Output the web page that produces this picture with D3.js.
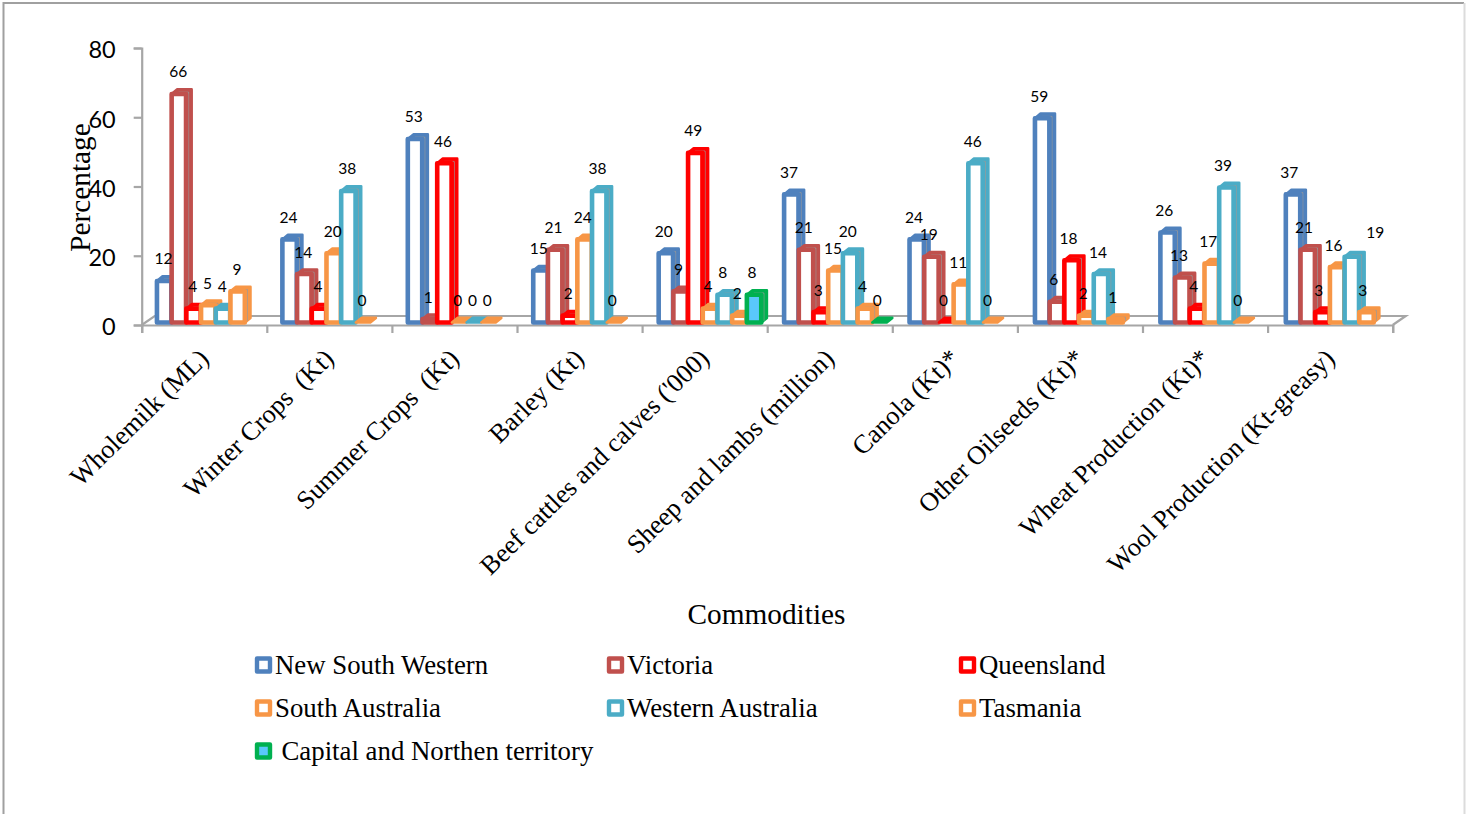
<!DOCTYPE html>
<html>
<head>
<meta charset="utf-8">
<script src="https://cdnjs.cloudflare.com/ajax/libs/d3/7.8.5/d3.min.js"></script>
<style>
  html, body { margin: 0; padding: 0; background: #fff; }
  svg { display: block; }
  .serif { font-family: "Liberation Serif", "Times New Roman", serif; fill: #000; }
  .sans { font-family: Lato, "Open Sans", sans-serif; fill: #000; }
</style>
</head>
<body>
<svg id="chart" width="1473" height="814"></svg>
<script>
// Share of national output by state, per commodity
const categories = ["Wholemilk (ML)", "Winter Crops  (Kt)", "Summer Crops  (Kt)", "Barley (Kt)",
  "Beef cattles and calves ('000)", "Sheep and lambs (million)", "Canola (Kt)*",
  "Other Oilseeds (Kt)*", "Wheat Production (Kt)*", "Wool Production (Kt-greasy)"];

const newSouthWestern = [12, 24, 53, 15, 20, 37, 24, 59, 26, 37];
const victoria        = [66, 14, 1, 21, 9, 21, 19, 6, 13, 21];
const queensland      = [4, 4, 46, 2, 49, 3, 0, 18, 4, 3];
const southAustralia  = [5, 20, 0, 24, 4, 15, 11, 2, 17, 16];
const westernAustralia = [4, 38, 0, 38, 8, 20, 46, 14, 39, 19];
const tasmania        = [9, 0, 0, 0, 2, 4, 0, 1, 0, 3];
const capitalNorthern = [null, null, null, null, 8, 0, null, null, null, null];

const yTicks = [0, 20, 40, 60, 80];

const series = [
  { name: "New South Western", values: newSouthWestern, color: "#4f81bd", fill: "#fff" },
  { name: "Victoria", values: victoria, color: "#c0504d", fill: "#fff" },
  { name: "Queensland", values: queensland, color: "#ff0000", fill: "#fff" },
  { name: "South Australia", values: southAustralia, color: "#f79646", fill: "#fff" },
  { name: "Western Australia", values: westernAustralia, color: "#4bacc6", fill: "#fff" },
  { name: "Tasmania", values: tasmania, color: "#f79646", fill: "#fff" },
  { name: "Capital and Northen territory", values: capitalNorthern, color: "#00b050", fill: "#5ac8fa" }
];

const svg = d3.select("#chart");
const axisGrey = "#a6a6a6";

// Page frame
svg.append("path")
  .attr("d", "M3.5,814V3H1464")
  .attr("fill", "none").attr("stroke", "#a0a0a0").attr("stroke-width", 2);
svg.append("path")
  .attr("d", "M1464.5,3V814")
  .attr("fill", "none").attr("stroke", "#dcdcdc").attr("stroke-width", 2);

// Scales
const plotLeft = 141.7, plotRight = 1392.7, y0 = 325, y80 = 48;
const y = d3.scaleLinear().domain([0, 80]).range([y0, y80]);
const x = d3.scaleBand().domain(categories).range([plotLeft, plotRight]);
// Perspective spreads the bars slightly wider than the floor ticks
const xBars = x.copy().range([plotLeft, plotRight + 3.3]);
const slot = d3.scaleBand().domain(d3.range(series.length)).range([13, 13 + 14.7 * series.length]);
const boundaries = d3.scaleLinear().domain([0, categories.length]).range([plotLeft, plotRight]);

// Floor of the 3-D box
const floorDepthX = 13, floorDepthY = 9;
svg.append("path")
  .attr("d", `M${plotLeft},${y0}L${plotLeft + floorDepthX},${y0 - floorDepthY}H${plotRight + floorDepthX}L${plotRight},${y0}`)
  .attr("fill", "none").attr("stroke", axisGrey).attr("stroke-width", 2.2);

// Value axis
const yAxis = svg.append("g")
  .attr("transform", `translate(${plotLeft},0)`)
  .call(d3.axisLeft(y).tickValues(yTicks).tickSize(8).tickPadding(18));
yAxis.selectAll("path, line").attr("stroke", axisGrey).attr("stroke-width", 2.2);
yAxis.selectAll("text").attr("class", "sans").style("font-size", "23.5px").attr("dy", "0.42em");

// Category axis: ticks sit on the band boundaries
const xTickAxis = svg.append("g")
  .attr("transform", `translate(0,${y0})`)
  .call(d3.axisBottom(boundaries).tickValues(d3.range(categories.length + 1)).tickSize(8).tickFormat(""));
xTickAxis.selectAll("path, line").attr("stroke", axisGrey).attr("stroke-width", 2.2);

const xLabels = svg.append("g")
  .attr("transform", `translate(0,${y0})`)
  .call(d3.axisBottom(x).tickSize(0).tickFormat(d => d));
xLabels.select("path").remove();
xLabels.selectAll("text")
  .attr("class", "serif")
  .style("font-size", "26.3px")
  .style("white-space", "pre")
  .attr("text-anchor", "end")
  .attr("x", 0).attr("y", 0).attr("dy", 0)
  .attr("transform", "translate(6,35) rotate(-44.5)");

// Bars: each one is a front face with a side and top panel behind it
const barW = 14.4, depthX = 5.6, depthY = 4.6, barOffset = 2.5, baseY = y0 - barOffset;
const marks = svg.append("g");
const labels = [];

// The Western Australia label on wool stands clear of its neighbours
const labelShift = (seriesIndex, catIndex) =>
  seriesIndex === 4 && catIndex === 9 ? { dx: 27, dy: -2 } : { dx: 0, dy: 0 };

categories.forEach((cat, c) => {
  series.forEach((s, i) => {
    const v = s.values[c];
    if (v === null) return;
    const left = xBars(cat) + slot(i) + 2.25;
    const right = left + barW;
    const top = y(v) - barOffset;
    const g = marks.append("g");
    g.append("path")
      .attr("d", `M${left},${top}L${left + depthX},${top - depthY}H${right + depthX}V${baseY - depthY}L${right},${baseY}Z`)
      .attr("fill", s.color).attr("stroke", s.color).attr("stroke-width", 2.6).attr("stroke-linejoin", "round");
    if (v > 0) {
      g.append("path")
        .attr("d", `M${left + 7},${top - 1.8}H${right + 2.6}V${baseY - 1.5}`)
        .attr("fill", "none").attr("stroke", "#9a9a9a").attr("stroke-width", 1).attr("opacity", 0.85);
    }
    g.append("rect")
      .attr("x", left).attr("y", top)
      .attr("width", barW).attr("height", baseY - top)
      .attr("fill", s.fill).attr("stroke", s.color).attr("stroke-width", 4.6).attr("stroke-linejoin", "round");
    const shift = labelShift(i, c);
    labels.push({ x: x(cat) + slot(i) + 2.25 + barW / 2 - 0.7 + shift.dx, y: y(v) - barOffset - 22 + shift.dy, v });
  });
});

// Value labels sit above all the bars
svg.append("g").selectAll("text").data(labels).join("text")
  .attr("class", "sans")
  .style("font-size", "15.5px")
  .attr("text-anchor", "middle")
  .attr("x", d => d.x).attr("y", d => d.y + 5.5)
  .text(d => d.v);

// Axis titles
svg.append("text").attr("class", "serif")
  .style("font-size", "29.3px")
  .attr("text-anchor", "middle")
  .attr("transform", "translate(90,187.5) rotate(-90)")
  .text("Percentage");
svg.append("text").attr("class", "serif")
  .style("font-size", "29.3px")
  .attr("text-anchor", "middle")
  .attr("x", 766.5).attr("y", 624)
  .text("Commodities");

// Legend
const legendCols = [257, 609, 961];
const legendRows = [665, 708, 751];
const legend = svg.append("g").selectAll("g").data(series).join("g")
  .attr("transform", (d, i) => `translate(${legendCols[i % 3]},${legendRows[Math.floor(i / 3)]})`);
legend.append("rect")
  .attr("x", 0).attr("y", -6.5).attr("width", 13).attr("height", 13)
  .attr("fill", d => d.fill).attr("stroke", d => d.color)
  .attr("stroke-width", 4.4).attr("stroke-linejoin", "round");
legend.append("text").attr("class", "serif")
  .style("font-size", "26.8px")
  .attr("x", (d, i) => i === 6 ? 24.5 : 18).attr("y", 9)
  .text(d => d.name);
</script>
</body>
</html>
